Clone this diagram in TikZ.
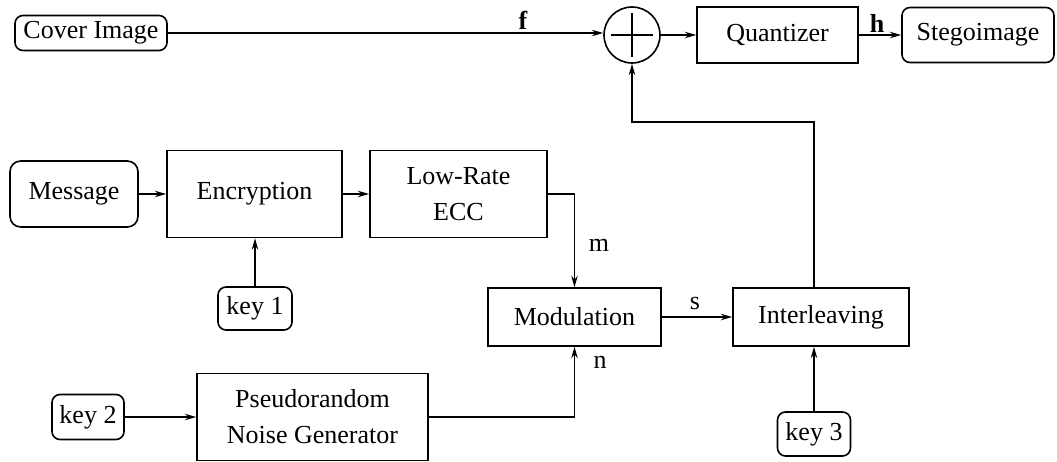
\documentclass[tikz,border=0pt]{standalone}
\usepackage{fontspec}
\setmainfont{Liberation Serif}
\usetikzlibrary{arrows.meta,calc}
\begin{document}
\begin{tikzpicture}[x=0.75pt,y=-0.75pt,
  font=\fontsize{19.5}{27}\selectfont,
  line width=1.2pt,
  sz/.style 2 args={minimum width=#1*0.75pt, minimum height=#2*0.75pt},
  blk/.style={draw, inner sep=0pt, align=center},
  rbox/.style={blk, rounded corners=6pt},
  arr/.style={-{Stealth[length=8.5pt,width=4.8pt]}},
  lbl/.style={inner sep=0pt},
  bl/.style={lbl, font=\fontsize{19.5}{27}\selectfont\bfseries}]
\useasboundingbox (0,0) rectangle (1057,461);

\node[rbox, sz={152}{35}] (cover) at (91,33) {Cover Image};
\node[draw, circle, inner sep=0pt, minimum size=56*0.75pt] (sum) at (632,35) {};
\draw (sum.center) ++(-21,0) -- ++(42,0);
\draw (sum.center) ++(0,-22) -- ++(0,44);
\node[blk, sz={161}{56}] (quant) at (777.5,35) {Quantizer};
\node[rbox, sz={152}{55}] (stego) at (978,35) {Stegoimage};

\node[rbox, sz={128}{66}, rounded corners=8pt] (msg) at (74,194) {Message};
\node[blk, sz={175}{87}] (enc) at (254.5,194) {Encryption};
\node[blk, sz={177}{87}] (ecc) at (458.5,194) {Low-Rate\\ECC};
\node[rbox, sz={74}{43}] (key1) at (255,308.5) {key 1};

\node[blk, sz={173}{58}] (mod) at (574.5,317) {Modulation};
\node[blk, sz={176}{58}] (inter) at (821,317) {Interleaving};

\node[rbox, sz={72}{45}] (key2) at (88,417) {key 2};
\node[blk, sz={231}{87}] (pn) at (312.5,417) {Pseudorandom\\Noise Generator};
\node[rbox, sz={73}{44}] (key3) at (814,434) {key 3};

\coordinate (fb) at (632,122);

\draw[arr] (cover.east) -- (cover.east -| sum.west);
\draw[arr] (sum.east) -- (quant.west);
\draw[arr] (quant.east) -- (stego.west);
\draw[arr] (msg.east) -- (enc.west);
\draw[arr] (enc.east) -- (ecc.west);
\draw[arr] (key1.north) -- (key1.north |- enc.south);
\draw[arr] (ecc.east) -| (mod.north);
\draw[arr] (pn.east) -| (mod.south);
\draw[arr] (mod.east) -- (inter.west);
\draw[arr] (key3.north) -- (key3.north |- inter.south);
\draw[arr] (key3.north |- inter.north) |- (fb) -- (sum.south);
\draw[arr] (key2.east) -- (pn.west);

\node[bl] (lf) at (523,20) {f};
\node[bl] (lh) at (877,23) {h};
\node[lbl] (lm) at (599,245) {m};
\node[lbl] (ls) at (695,303) {s};
\node[lbl] (ln) at (600,362) {n};
\end{tikzpicture}
\end{document}
